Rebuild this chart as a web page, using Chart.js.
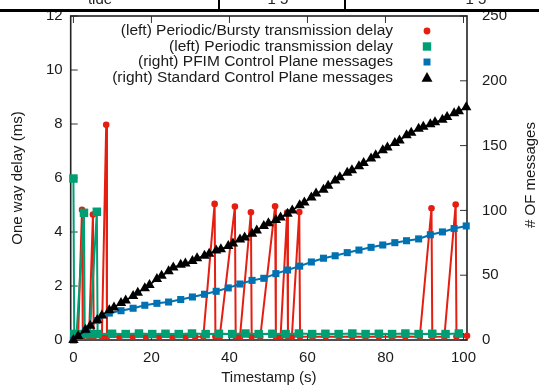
<!DOCTYPE html>
<html><head><meta charset="utf-8">
<script src="https://cdn.jsdelivr.net/npm/chart.js@4.4.0/dist/chart.umd.min.js"></script>
<style>
html,body{margin:0;padding:0;background:#fff;}
#wrap{position:relative;width:539px;height:387px;overflow:hidden;background:#fff;}
#c{position:absolute;left:0;top:0;}
.strip{position:absolute;left:0;top:0;width:539px;height:12px;overflow:hidden;}
.hline{position:absolute;left:0;top:9px;width:539px;height:2.5px;background:#000;}
.vline{position:absolute;top:0;width:1.5px;height:10px;background:#000;}
.frag{position:absolute;top:-10px;font:15px "Liberation Sans",Arial,sans-serif;color:#222;white-space:nowrap;transform:translateX(-50%);}
</style></head>
<body>
<div id="wrap">
<canvas id="c" width="539" height="387"></canvas>
<div class="strip">
  <div class="frag" style="left:100px">tide</div>
  <div class="vline" style="left:218px"></div>
  <div class="frag" style="left:278px">1 5</div>
  <div class="vline" style="left:344px"></div>
  <div class="frag" style="left:476px">1 5</div>
  <div class="hline"></div>
</div>
</div>
<script>
// ---- data ----
const seriesLabels = [
  '(left) Periodic/Bursty transmission delay',
  '(left) Periodic transmission delay',
  '(right) PFIM Control Plane messages',
  '(right) Standard Control Plane messages'
];
const xTicks = [0, 20, 40, 60, 80, 100];
const yLeftTicks = [0, 2, 4, 6, 8, 10, 12];
const yRightTicks = [0, 50, 100, 150, 200, 250];

const redT = [0, 1.2, 2.2, 2.4, 4.0, 5.0, 5.2, 7.3, 8.4, 8.6, 11.8, 15.2, 18.6, 22.0, 25.4, 28.8, 31.2, 33.3, 36.2, 36.4, 37.5, 41.4, 41.6, 42.7, 45.5, 45.7, 47.9, 51.7, 51.9, 53.1, 54.8, 55.0, 56.0, 57.9, 58.1, 61.3, 64.7, 68.1, 71.5, 74.9, 78.3, 81.7, 85.1, 88.8, 91.8, 92.0, 95.1, 98.0, 98.2, 100.9];
const redV = [0.13, 0.13, 4.82, 0.13, 0.13, 4.65, 0.13, 0.13, 7.97, 0.13, 0.12, 0.13, 0.12, 0.13, 0.12, 0.13, 0.12, 0.13, 5.04, 0.13, 0.12, 4.94, 0.13, 0.12, 4.73, 0.13, 0.12, 4.95, 0.13, 0.12, 4.72, 0.13, 0.12, 4.74, 0.13, 0.12, 0.13, 0.12, 0.13, 0.12, 0.13, 0.12, 0.13, 0.12, 4.88, 0.13, 0.12, 5.02, 0.13, 0.16];

const greenT = [0, 0.2, 0.8, 2.7, 2.9, 4.2, 6.0, 6.2, 9.9, 13.4, 16.8, 20.2, 23.6, 27.0, 30.4, 33.9, 37.3, 40.7, 44.1, 47.5, 51.0, 54.4, 57.8, 61.2, 64.6, 68.0, 71.5, 74.9, 78.3, 81.7, 85.1, 88.5, 92.0, 95.4, 98.8];
const greenV = [5.98, 0.22, 0.22, 4.71, 0.22, 0.22, 4.75, 0.22, 0.23, 0.22, 0.24, 0.22, 0.23, 0.22, 0.24, 0.22, 0.23, 0.22, 0.24, 0.22, 0.23, 0.22, 0.24, 0.22, 0.23, 0.22, 0.24, 0.22, 0.23, 0.22, 0.24, 0.22, 0.23, 0.22, 0.24];

const blueT = [0, 3.1, 6.1, 9.2, 12.2, 15.3, 18.3, 21.4, 24.4, 27.5, 30.5, 33.6, 36.6, 39.7, 42.7, 45.8, 48.8, 51.9, 54.9, 58.0, 61.0, 64.1, 67.1, 70.2, 73.2, 76.3, 79.3, 82.4, 85.4, 88.5, 91.5, 94.6, 97.6, 100.7];
const blueV = [0, 7.5, 15, 20.8, 22.6, 24.5, 26.8, 28.3, 29.3, 31.2, 33.2, 35.3, 37.6, 40.2, 43.2, 46.0, 47.6, 51.2, 54.0, 57.0, 60.2, 63.1, 65.0, 67.4, 69.4, 71.5, 73.3, 75.1, 76.6, 78.0, 81.2, 83.4, 86.0, 88.0];

const blackT = [0, 1.2, 3.1, 4.3, 6.1, 7.3, 9.2, 10.4, 12.2, 13.4, 15.3, 16.5, 18.3, 19.5, 21.4, 22.6, 24.4, 25.6, 27.5, 28.7, 30.5, 31.7, 33.6, 34.8, 36.6, 37.8, 39.7, 40.9, 42.7, 43.9, 45.8, 47.0, 48.8, 50.0, 51.9, 53.1, 54.9, 56.1, 58.0, 59.2, 61.0, 62.2, 64.1, 65.3, 67.1, 68.3, 70.2, 71.4, 73.2, 74.4, 76.3, 77.5, 79.3, 80.5, 82.4, 83.6, 85.4, 86.6, 88.5, 89.7, 91.5, 92.7, 94.6, 95.8, 97.6, 98.8, 100.7];
const blackV = [0, 3, 8, 11, 15.5, 19, 23, 25, 28.5, 30.5, 34, 36.5, 40, 42.5, 47, 49.5, 53, 56, 58, 59, 61, 63, 65, 66.5, 69, 70, 72.5, 74.5, 77.5, 79, 82, 84.5, 88, 90, 92.5, 94.5, 97.5, 100, 104, 106, 110, 113, 116, 119, 123, 125.5, 129, 131, 134, 136.5, 140, 142.5, 146.5, 148.5, 152, 154, 158, 160, 163, 164.5, 166.5, 168, 170, 172, 175, 176.5, 179.5];

// ---- styles ----
const FONT = '"Liberation Sans", Arial, Helvetica, sans-serif';
const TXT = '#1a1a1a';
const RED = '#e51e10', GREEN = '#009e73', BLUE = '#0072b2', BLACK = '#000000';
const pts = (xs, ys) => xs.map((x, i) => ({x: x, y: ys[i]}));

Chart.defaults.font.family = FONT;
Chart.defaults.font.size = 15;
Chart.defaults.color = TXT;

const markerDefs = [
  {style: 'circle', r: 3.4, color: RED},
  {style: 'rect', r: 4.2, color: GREEN},
  {style: 'rect', r: 3.5, color: BLUE},
  {style: 'triangle', r: 5.5, color: BLACK}
];

function drawMarker(ctx, m, x, y) {
  ctx.save();
  ctx.fillStyle = m.color;
  ctx.beginPath();
  if (m.style === 'circle') {
    ctx.arc(x, y, m.r, 0, Math.PI * 2);
  } else if (m.style === 'rect') {
    ctx.rect(x - m.r, y - m.r, 2 * m.r, 2 * m.r);
  } else {
    const h = m.r * 1.7;
    ctx.moveTo(x, y - h * 0.6);
    ctx.lineTo(x + m.r, y + h * 0.45);
    ctx.lineTo(x - m.r, y + h * 0.45);
    ctx.closePath();
  }
  ctx.fill();
  ctx.restore();
}

const framePlugin = {
  id: 'frame',
  beforeDatasetsDraw(chart) {
    const {ctx, chartArea: a, scales} = chart;
    ctx.save();
    ctx.strokeStyle = '#333';
    ctx.lineWidth = 1;
    const L = 7;
    ctx.beginPath();
    xTicks.forEach(v => {
      const px = scales.x.getPixelForValue(v);
      ctx.moveTo(px, a.top); ctx.lineTo(px, a.top + L);
      ctx.moveTo(px, a.bottom); ctx.lineTo(px, a.bottom - L);
    });
    yLeftTicks.forEach(v => {
      const py = scales.y.getPixelForValue(v);
      ctx.moveTo(a.left, py); ctx.lineTo(a.left + L, py);
    });
    yRightTicks.forEach(v => {
      const py = scales.y2.getPixelForValue(v);
      ctx.moveTo(a.right, py); ctx.lineTo(a.right - L, py);
    });
    ctx.stroke();
    ctx.lineWidth = 1.6;
    ctx.strokeStyle = '#222';
    ctx.strokeRect(a.left, a.top, a.right - a.left, a.bottom - a.top);
    ctx.restore();
  },
  afterDraw(chart) {
    const {ctx, chartArea: a} = chart;
    ctx.save();
    ctx.font = '15px ' + FONT;
    ctx.fillStyle = TXT;
    // right axis title (reads bottom to top)
    ctx.translate(531, (a.top + a.bottom) / 2 - 3);
    ctx.rotate(-Math.PI / 2);
    ctx.textAlign = 'center';
    ctx.textBaseline = 'middle';
    ctx.fillText('# OF messages', 0, 0);
    ctx.restore();
    // legend
    ctx.save();
    ctx.font = '15.5px ' + FONT;
    ctx.fillStyle = TXT;
    ctx.textAlign = 'right';
    ctx.textBaseline = 'middle';
    const rows = [31, 46.5, 62, 77.5];
    seriesLabels.forEach((lab, i) => {
      ctx.fillText(lab, 393, rows[i]);
      drawMarker(ctx, markerDefs[i], 427, rows[i]);
    });
    ctx.restore();
  }
};

const fixTicks = arr => s => { s.ticks = arr.map(v => ({value: v})); };
const noPad = s => { s.paddingTop = 0; s.paddingBottom = 0; s.paddingLeft = 0; s.paddingRight = 0; };

new Chart(document.getElementById('c'), {
  type: 'line',
  data: {
    datasets: [
      {label: seriesLabels[0], data: pts(redT, redV), yAxisID: 'y', order: 4,
       borderColor: RED, backgroundColor: RED, borderWidth: 2, pointStyle: 'circle',
       pointRadius: 3.3, pointBorderWidth: 0, pointBackgroundColor: RED, clip: false},
      {label: seriesLabels[1], data: pts(greenT, greenV), yAxisID: 'y', order: 3,
       borderColor: GREEN, backgroundColor: GREEN, borderWidth: 2, pointStyle: 'rect',
       pointRadius: 6, pointBorderWidth: 0, pointBackgroundColor: GREEN, clip: false},
      {label: seriesLabels[2], data: pts(blueT, blueV), yAxisID: 'y2', order: 2,
       borderColor: BLUE, backgroundColor: BLUE, borderWidth: 2, pointStyle: 'rect',
       pointRadius: 5, pointBorderWidth: 0, pointBackgroundColor: BLUE, clip: false},
      {label: seriesLabels[3], data: pts(blackT, blackV), yAxisID: 'y2', order: 1,
       borderColor: BLACK, backgroundColor: BLACK, borderWidth: 1.6, pointStyle: 'triangle',
       pointRadius: 6, pointBorderWidth: 0, pointBackgroundColor: BLACK, clip: false}
    ]
  },
  options: {
    responsive: false,
    animation: false,
    devicePixelRatio: 1,
    layout: {padding: {top: 16, left: 0, right: 0, bottom: 0}},
    plugins: {legend: {display: false}, tooltip: {enabled: false}},
    elements: {line: {tension: 0}},
    scales: {
      x: {
        type: 'linear', position: 'bottom', min: -0.7, max: 100.9,
        afterBuildTicks: fixTicks(xTicks),
        ticks: {padding: 1, color: TXT, maxRotation: 0, autoSkip: false},
        grid: {display: false}, border: {display: false},
        title: {display: true, text: 'Timestamp (s)', color: TXT, padding: {top: 0, bottom: 0}},
        afterFit: s => { noPad(s); s.height = 47; }
      },
      y: {
        type: 'linear', position: 'left', min: 0, max: 12,
        afterBuildTicks: fixTicks(yLeftTicks),
        ticks: {padding: 0, color: TXT, autoSkip: false},
        grid: {display: false}, border: {display: false},
        title: {display: true, text: 'One way delay (ms)', color: TXT, padding: {top: 9, bottom: 0}},
        afterFit: s => { noPad(s); s.width = 70.7; }
      },
      y2: {
        type: 'linear', position: 'right', min: 0, max: 250,
        afterBuildTicks: fixTicks(yRightTicks),
        ticks: {padding: 7, color: TXT, autoSkip: false},
        grid: {display: false}, border: {display: false},
        afterFit: s => { noPad(s); s.width = 72; }
      }
    }
  },
  plugins: [framePlugin]
});
</script>
</body></html>
